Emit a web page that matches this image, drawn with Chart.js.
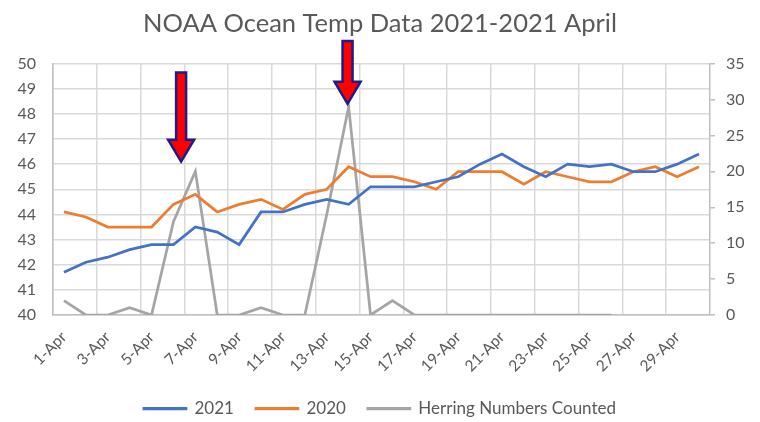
<!DOCTYPE html>
<html>
<head>
<meta charset="utf-8">
<script src="https://cdn.jsdelivr.net/npm/chart.js@4"></script>
<style>
  html, body { margin: 0; padding: 0; background: #fff; }
  #wrap { width: 760px; height: 422px; }
</style>
</head>
<body>
<div id="wrap"><canvas id="tempChart" width="760" height="422"></canvas></div>
<script>
const days = [];
for (let d = 1; d <= 30; d++) days.push(d + '-Apr');

const temp2021 = [41.7, 42.1, 42.3, 42.6, 42.8, 42.8, 43.5, 43.3, 42.8, 44.1,
                  44.1, 44.4, 44.6, 44.4, 45.1, 45.1, 45.1, 45.3, 45.5, 46.0,
                  46.4, 45.9, 45.5, 46.0, 45.9, 46.0, 45.7, 45.7, 46.0, 46.4];
const temp2020 = [44.1, 43.9, 43.5, 43.5, 43.5, 44.4, 44.8, 44.1, 44.4, 44.6,
                  44.2, 44.8, 45.0, 45.9, 45.5, 45.5, 45.3, 45.0, 45.7, 45.7,
                  45.7, 45.2, 45.7, 45.5, 45.3, 45.3, 45.7, 45.9, 45.5, 45.9];
const herring = [2, 0, 0, 1, 0, 13, 20, 0, 0, 1,
                 0, 0, 14, 29, 0, 2, 0, 0, 0, 0,
                 0, 0, 0, 0, 0, 0, null, null, null, null];

// callout arrows: x as category position, top/tip on the temperature axis
const arrows = [
    { at: 5.35, top: 49.65, tip: 46.1 },
    { at: 12.95, top: 50.9, tip: 48.4 }
];

const textColor = '#595959';
const gridColor = '#d9d9d9';
const font = 'Lato, "Open Sans", sans-serif';

const arrowPlugin = {
    id: 'arrows',
    afterDatasetsDraw(chart) {
        const { ctx, scales } = chart;
        const sw = 10, hw = 26, hh = 22;
        arrows.forEach(a => {
            const cx = scales.x.getPixelForValue(a.at);
            const top = scales.y.getPixelForValue(a.top);
            const tip = scales.y.getPixelForValue(a.tip);
            const headTop = tip - hh;
            ctx.save();
            ctx.beginPath();
            ctx.moveTo(cx - sw / 2, top);
            ctx.lineTo(cx + sw / 2, top);
            ctx.lineTo(cx + sw / 2, headTop);
            ctx.lineTo(cx + hw / 2, headTop);
            ctx.lineTo(cx, tip);
            ctx.lineTo(cx - hw / 2, headTop);
            ctx.lineTo(cx - sw / 2, headTop);
            ctx.closePath();
            ctx.fillStyle = '#ff0000';
            ctx.fill();
            ctx.lineWidth = 2.5;
            ctx.lineJoin = 'miter';
            ctx.strokeStyle = '#1c1c8a';
            ctx.stroke();
            ctx.restore();
        });
    }
};

new Chart(document.getElementById('tempChart'), {
    type: 'line',
    data: {
        labels: days,
        datasets: [
            { label: '2021', data: temp2021, yAxisID: 'y', borderColor: '#4472c4', backgroundColor: '#4472c4', borderWidth: 2.75, pointRadius: 0, tension: 0 },
            { label: '2020', data: temp2020, yAxisID: 'y', borderColor: '#ed7d31', backgroundColor: '#ed7d31', borderWidth: 2.75, pointRadius: 0, tension: 0 },
            { label: 'Herring Numbers Counted', data: herring, yAxisID: 'y2', borderColor: '#a5a5a5', backgroundColor: '#a5a5a5', borderWidth: 2.75, pointRadius: 0, tension: 0 }
        ]
    },
    options: {
        responsive: false,
        animation: false,
        layout: { padding: { left: 0, right: 0, top: 0, bottom: -5 } },
        plugins: {
            title: {
                display: true,
                text: 'NOAA Ocean Temp Data 2021-2021 April',
                color: textColor,
                font: { family: font, size: 25.5, weight: 'normal' },
                padding: { top: 8, bottom: 25 }
            },
            legend: {
                position: 'bottom',
                labels: {
                    color: textColor,
                    font: { family: font, size: 17 },
                    boxWidth: 42,
                    boxHeight: 0.5,
                    padding: 22
                }
            },
            tooltip: { enabled: false }
        },
        scales: {
            x: {
                offset: true,
                grid: {
                    offset: true,
                    drawTicks: false,
                    color: c => (c.index % 2 === 0 ? gridColor : 'transparent'),
                    lineWidth: 1.5
                },
                border: { color: '#bfbfbf', width: 1.5 },
                ticks: {
                    autoSkip: false,
                    maxRotation: 45,
                    minRotation: 45,
                    padding: 13,
                    color: textColor,
                    font: { family: font, size: 15.5 },
                    callback: (v, i) => (i % 2 === 0 ? days[i] : '')
                },
                afterFit: s => { s.height = 63; }
            },
            y: {
                position: 'left',
                min: 40,
                max: 50,
                ticks: { stepSize: 1, color: textColor, font: { family: font, size: 16 }, padding: 17 },
                grid: { color: gridColor, lineWidth: 1.5, drawTicks: false },
                border: { color: '#bfbfbf', width: 1.5 },
                afterFit: s => { s.width = 53; }
            },
            y2: {
                position: 'right',
                min: 0,
                max: 35,
                ticks: { stepSize: 5, color: textColor, font: { family: font, size: 16 }, padding: 11 },
                grid: { drawOnChartArea: false, drawTicks: true, tickLength: 5, color: '#bfbfbf', lineWidth: 1.5 },
                border: { color: '#bfbfbf', width: 1.5 },
                afterFit: s => { s.width = 50; }
            }
        }
    },
    plugins: [arrowPlugin]
});
</script>
</body>
</html>
